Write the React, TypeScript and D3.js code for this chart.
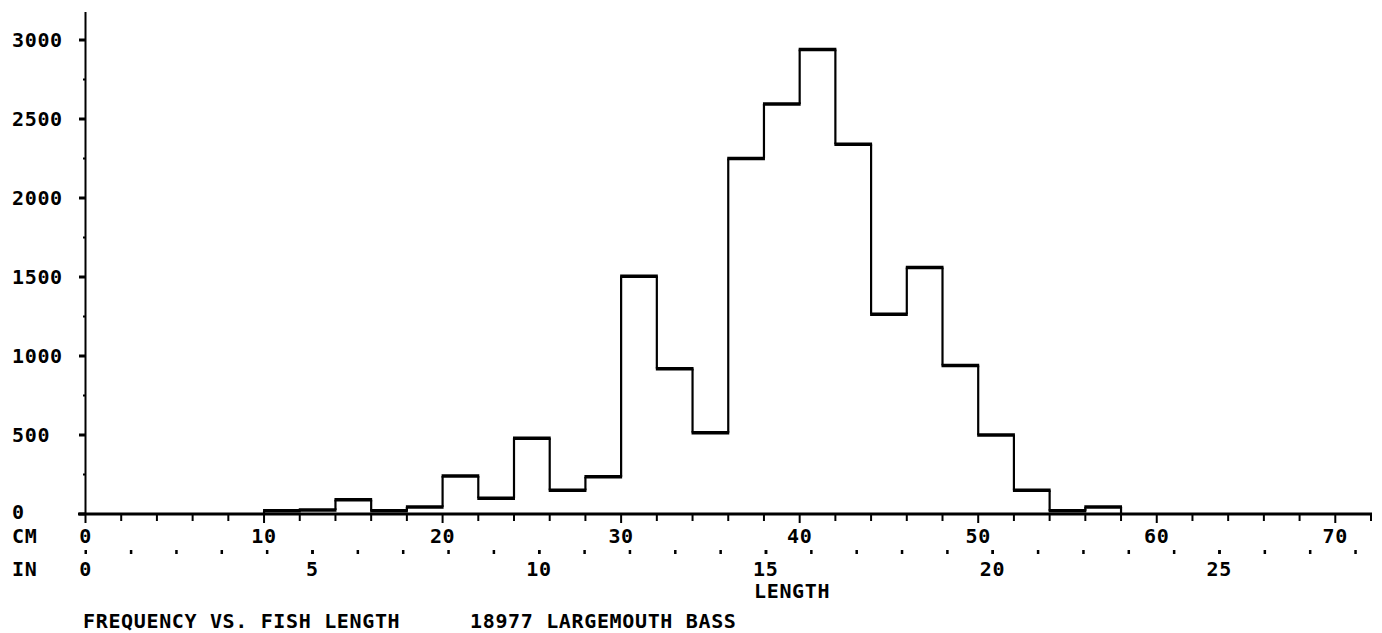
import React from "react";
import * as d3 from "d3";

// Bin lower edges (cm), bins are 2 cm wide
const binStarts = [10, 12, 14, 16, 18, 20, 22, 24, 26, 28, 30, 32, 34, 36, 38, 40, 42, 44, 46, 48, 50, 52, 54, 56];
const binCounts = [20, 25, 90, 20, 45, 240, 100, 480, 150, 235, 1505, 920, 515, 2250, 2595, 2940, 2340, 1265, 1560, 940, 500, 150, 20, 45];
const binWidth = 2;

const yTicks = [0, 500, 1000, 1500, 2000, 2500, 3000];
const yMinorTicks = [250, 750, 1250, 1750, 2250, 2750];
const cmLabels = [0, 10, 20, 30, 40, 50, 60, 70];
const cmMinor = d3.range(0, 73, 2);
const inLabels = [0, 5, 10, 15, 20, 25];
const inDots = d3.range(1, 29, 1);

const W = 1382;
const H = 633;
const FONT = "'DejaVu Sans Mono', monospace";

export default function App() {
  const x = d3.scaleLinear().domain([0, 72]).range([85.5, 1371]);
  const y = d3.scaleLinear().domain([0, 3000]).range([514, 40]);
  const xIn = (v: number) => x(v * 2.54);

  // horizontal tops and vertical connectors of the step outline
  const heights = [0, ...binCounts, 0];
  const edges = [...binStarts, binStarts[binStarts.length - 1] + binWidth];
  const hLine = d3.line();

  const textStyle: React.CSSProperties = {
    fontFamily: FONT,
    fontWeight: "bold",
    fontSize: 20,
    letterSpacing: 0.65,
  };

  return (
    <svg width={W} height={H} style={{ position: "absolute", left: 0, top: 0, display: "block", background: "#fff" }}>
      <rect width={W} height={H} fill="#fff" />
      {/* Y axis */}
      <line x1={x(0)} x2={x(0)} y1={12} y2={y(0)} stroke="#000" strokeWidth={2} />
      {yTicks.map((t) => (
        <g key={"yt" + t}>
          <line x1={79} x2={x(0)} y1={y(t)} y2={y(t)} stroke="#000" strokeWidth={3} />
          <text x={12} y={t === 0 ? y(t) + 5 : y(t) + 7} style={textStyle}>{t}</text>
        </g>
      ))}
      {yMinorTicks.map((t) => (
        <line key={"ym" + t} x1={83} x2={x(0)} y1={y(t)} y2={y(t)} stroke="#000" strokeWidth={2} />
      ))}
      {/* X axis */}
      <line x1={78} x2={1372} y1={y(0)} y2={y(0)} stroke="#000" strokeWidth={3} />
      {cmMinor.map((t) => (
        <line key={"xm" + t} x1={x(t)} x2={x(t)} y1={y(0)} y2={y(0) + (t % 10 === 0 ? 9 : 7)} stroke="#000" strokeWidth={2} />
      ))}
      {cmLabels.map((t) => (
        <text key={"xl" + t} x={x(t)} y={542.5} textAnchor="middle" style={textStyle}>{t}</text>
      ))}
      <text x={12} y={542.5} style={textStyle}>CM</text>
      {/* Inch scale */}
      {inDots.map((t) => (
        <rect key={"id" + t} x={xIn(t) - 1} y={550} width={2.5} height={4} fill="#000" />
      ))}
      {inLabels.map((t) => (
        <g key={"il" + t}>
          <rect x={xIn(t) - 1} y={550} width={2.5} height={4} fill="#000" />
          <text x={xIn(t)} y={576} textAnchor="middle" style={textStyle}>{t}</text>
        </g>
      ))}
      <text x={12} y={576} style={textStyle}>IN</text>
      <text x={754} y={598} style={textStyle}>LENGTH</text>
      {/* Histogram: verticals */}
      {edges.map((e, i) => (
        <path
          key={"v" + i}
          d={hLine([[x(e), y(heights[i])], [x(e), y(heights[i + 1])]]) || ""}
          stroke="#000"
          strokeWidth={2.2}
          fill="none"
        />
      ))}
      {/* Histogram: tops */}
      {binStarts.map((s, i) => (
        <path
          key={"h" + i}
          d={hLine([[x(s) - 1, y(binCounts[i])], [x(s + binWidth) + 1, y(binCounts[i])]]) || ""}
          stroke="#000"
          strokeWidth={3.5}
          fill="none"
        />
      ))}
      {/* Caption */}
      <text x={83} y={628} style={textStyle}>FREQUENCY VS. FISH LENGTH</text>
      <text x={470} y={628} style={textStyle}>18977 LARGEMOUTH BASS</text>
    </svg>
  );
}
